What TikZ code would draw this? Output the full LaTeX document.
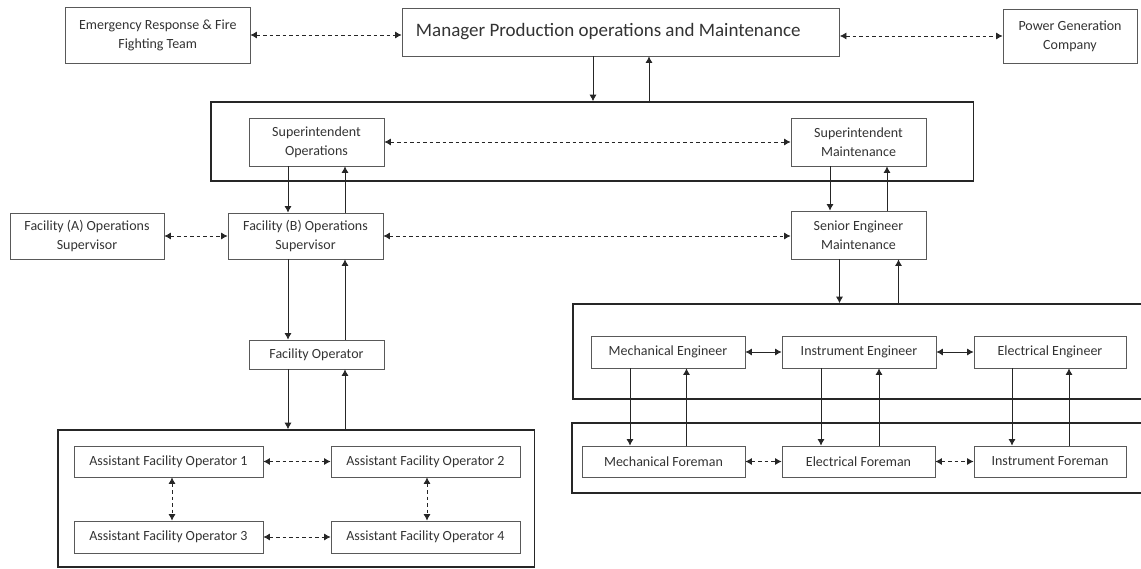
\documentclass[tikz,border=0pt]{standalone}
\usepackage{fontspec}
\setmainfont{Carlito}
\usetikzlibrary{arrows.meta,calc}
\begin{document}
\begin{tikzpicture}[x=1pt,y=-1pt,
  txt/.style={text=black!80, font=\fontsize{14}{19}\selectfont, align=center},
  box/.style={draw=black!65, line width=0.8pt, inner sep=0pt, txt},
  group/.style={draw=black!85, line width=1.6pt, inner sep=0pt},
  tip/.tip={Latex[length=6.5pt,width=7pt]},
  arr/.style={-tip, line width=0.8pt, draw=black!85},
  sarr/.style={tip-tip, line width=0.8pt, draw=black!85},
  darr/.style={tip-tip, line width=0.8pt, draw=black!85, dash pattern=on 3.5pt off 3pt}
]
\useasboundingbox (0,0) rectangle (1141,569);

% top row
\node[box, minimum width=184.5pt, minimum height=56pt] (em) at (157.75,35) {Emergency Response \& Fire\\Fighting Team};
\node[box, minimum width=437.5pt, minimum height=48pt, font=\fontsize{19}{22}\selectfont] (mgr) at (620.75,32) {\raisebox{3pt}{Manager Production operations and Maintenance}\hspace*{25pt}};
\node[box, minimum width=134pt, minimum height=54pt] (pow) at (1070,36) {Power Generation\\Company};

% group boxes
\node[group, minimum width=762.5pt, minimum height=79pt] (g1) at (592.25,141.5) {};
\node[group, minimum width=577pt, minimum height=95pt] (g2) at (861.5,351.5) {};
\node[group, minimum width=578pt, minimum height=70pt] (g3) at (861,458) {};
\node[group, minimum width=476.5pt, minimum height=137pt] (g4) at (296.25,498.5) {};

% superintendents
\node[box, minimum width=135pt, minimum height=48pt] (supops) at (316.5,142) {Superintendent\\Operations};
\node[box, minimum width=135pt, minimum height=48pt] (supmnt) at (858.5,142) {Superintendent\\Maintenance};

% supervisors
\node[box, minimum width=154pt, minimum height=46pt] (facA) at (87,236) {Facility (A) Operations\\Supervisor};
\node[box, minimum width=155pt, minimum height=46pt] (facB) at (305.5,236) {Facility (B) Operations\\Supervisor};
\node[box, minimum width=135pt, minimum height=48pt] (senior) at (858.5,235) {Senior Engineer\\Maintenance};
\node[box, minimum width=135pt, minimum height=29pt] (facop) at (316.5,354.5) {Facility Operator};

% engineers
\node[box, minimum width=154pt, minimum height=32pt] (mecheng) at (668,352) {Mechanical Engineer};
\node[box, minimum width=154pt, minimum height=32pt] (insteng) at (859,352) {Instrument Engineer};
\node[box, minimum width=152pt, minimum height=32pt] (eleceng) at (1050,352) {Electrical Engineer};

% foremen
\node[box, minimum width=163pt, minimum height=31pt] (mechfor) at (663.5,461.5) {Mechanical Foreman};
\node[box, minimum width=153pt, minimum height=31pt] (elecfor) at (858.5,461.5) {Electrical Foreman};
\node[box, minimum width=152pt, minimum height=31pt] (instfor) at (1050,461.5) {Instrument Foreman};

% assistants
\node[box, minimum width=189pt, minimum height=31pt] (a1) at (168.5,461.5) {Assistant Facility Operator 1};
\node[box, minimum width=189pt, minimum height=31pt] (a2) at (425.5,461.5) {Assistant Facility Operator 2};
\node[box, minimum width=189pt, minimum height=32pt] (a3) at (168.5,537) {Assistant Facility Operator 3};
\node[box, minimum width=189pt, minimum height=32pt] (a4) at (425.5,537) {Assistant Facility Operator 4};

% x positions of vertical connectors
\coordinate (m1) at (593,0);  \coordinate (m2) at (649,0);
\coordinate (o1) at (288,0);  \coordinate (o2) at (345,0);
\coordinate (s1) at (830,0);  \coordinate (s2) at (887,0);
\coordinate (e1) at (839.5,0); \coordinate (e2) at (898.5,0);
\coordinate (k1) at (630,0);  \coordinate (k2) at (686.5,0);
\coordinate (k3) at (821,0);  \coordinate (k4) at (879,0);
\coordinate (k5) at (1012,0); \coordinate (k6) at (1069,0);
\coordinate (v1) at (172,0);  \coordinate (v2) at (427,0);

% vertical connectors
\draw[arr] (mgr.south -| m1) -- (g1.north -| m1);
\draw[arr] (g1.north -| m2) -- (mgr.south -| m2);
\draw[arr] (supops.south -| o1) -- (facB.north -| o1);
\draw[arr] (facB.north -| o2) -- (supops.south -| o2);
\draw[arr] (facB.south -| o1) -- (facop.north -| o1);
\draw[arr] (facop.north -| o2) -- (facB.south -| o2);
\draw[arr] (facop.south -| o1) -- (g4.north -| o1);
\draw[arr] (g4.north -| o2) -- (facop.south -| o2);
\draw[arr] (supmnt.south -| s1) -- (senior.north -| s1);
\draw[arr] (senior.north -| s2) -- (supmnt.south -| s2);
\draw[arr] (senior.south -| e1) -- (g2.north -| e1);
\draw[arr] (g2.north -| e2) -- (senior.south -| e2);
\draw[arr] (mecheng.south -| k1) -- (mechfor.north -| k1);
\draw[arr] (mechfor.north -| k2) -- (mecheng.south -| k2);
\draw[arr] (insteng.south -| k3) -- (elecfor.north -| k3);
\draw[arr] (elecfor.north -| k4) -- (insteng.south -| k4);
\draw[arr] (eleceng.south -| k5) -- (instfor.north -| k5);
\draw[arr] (instfor.north -| k6) -- (eleceng.south -| k6);

% horizontal connectors
\draw[darr] (em.east) -- (mgr.west |- em.east);
\draw[darr] (mgr.east |- pow.west) -- (pow.west);
\draw[darr] (supops.east) -- (supmnt.west);
\draw[darr] (facA.east) -- (facB.west);
\draw[darr] (facB.east) -- (senior.west |- facB.east);
\draw[sarr] (mecheng.east) -- (insteng.west);
\draw[sarr] (insteng.east) -- (eleceng.west);
\draw[darr] (mechfor.east) -- (elecfor.west);
\draw[darr] (elecfor.east) -- (instfor.west);
\draw[darr] (a1.east) -- (a2.west);
\draw[darr] (a3.east) -- (a4.west);
\draw[darr] (a1.south -| v1) -- (a3.north -| v1);
\draw[darr] (a2.south -| v2) -- (a4.north -| v2);
\end{tikzpicture}
\end{document}
